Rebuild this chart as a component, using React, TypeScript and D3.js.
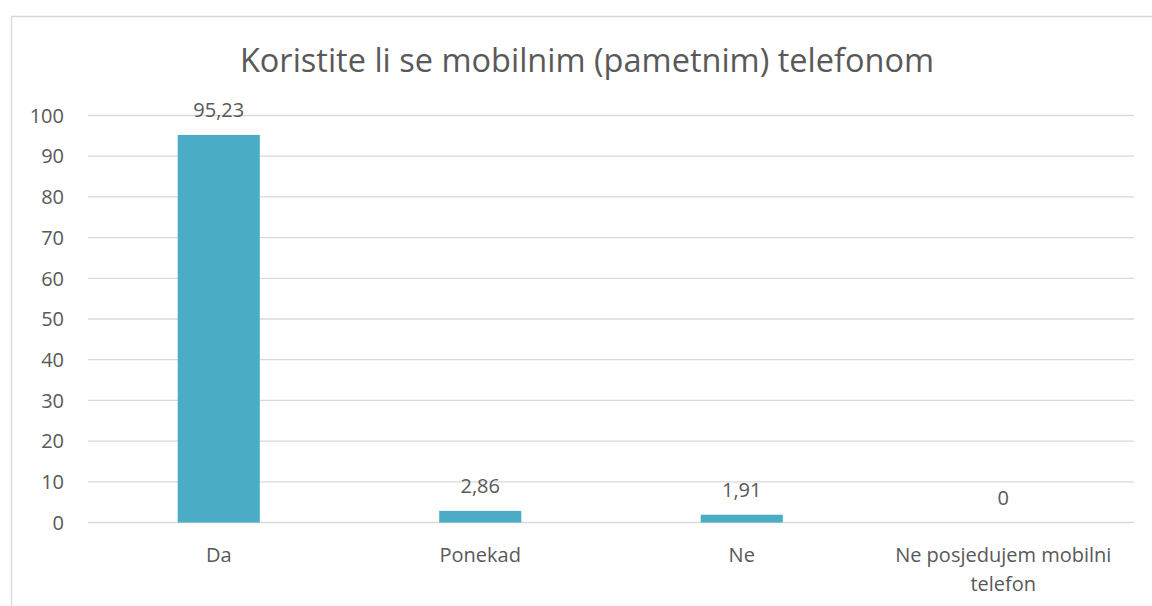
import React from "react";
import * as d3 from "d3";

const title = "Koristite li se mobilnim (pametnim) telefonom";
const categories = ["Da", "Ponekad", "Ne", "Ne posjedujem mobilni telefon"];
const categoryLines = [["Da"], ["Ponekad"], ["Ne"], ["Ne posjedujem mobilni", "telefon"]];
const values = [95.23, 2.86, 1.91, 0];
const valueLabels = ["95,23", "2,86", "1,91", "0"];
const yTicks = [0, 10, 20, 30, 40, 50, 60, 70, 80, 90, 100];

const W = 1152;
const H = 606;
const FONT = "'Open Sans', 'Noto Sans', sans-serif";
const TEXT = "#595959";
const FS = 20;

export default function App() {
  const x = d3.scaleBand<string>().domain(categories).range([88, 1134]).paddingInner(0.686).paddingOuter(0.343);
  const band = d3.scaleBand<string>().domain(categories).range([88, 1134]);
  const y = d3.scaleLinear().domain([0, 100]).range([522.5, 115.5]);

  return (
    <svg width={W} height={H} style={{ position: "absolute", left: 0, top: 0 }} fontFamily={FONT}>
      <rect x={0} y={0} width={W} height={H} fill="#fff" />
      <path d={`M11.5,${H} V16.5 H${W}`} fill="none" stroke="#d9d9d9" strokeWidth={1.3} />
      <text x={587} y={72} textAnchor="middle" fontSize={32.5} fill={TEXT}>
        {title}
      </text>
      {yTicks.map((t) => (
        <g key={t}>
          <line x1={88} x2={1134} y1={y(t)} y2={y(t)} stroke="#d9d9d9" strokeWidth={1.3} />
          <text x={64} y={y(t)} dy="0.36em" textAnchor="end" fontSize={FS} fill={TEXT}>
            {t}
          </text>
        </g>
      ))}
      {categories.map((c, i) => (
        <g key={c}>
          <rect x={x(c)} y={y(values[i])} width={x.bandwidth()} height={y(0) - y(values[i])} fill="#4bacc6" />
          <text x={(x(c) as number) + x.bandwidth() / 2} y={y(values[i]) - 18} textAnchor="middle" fontSize={FS} fill={TEXT}>
            {valueLabels[i]}
          </text>
          <text textAnchor="middle" fontSize={FS} fill={TEXT}>
            {categoryLines[i].map((line, j) => (
              <tspan key={j} x={(band(c) as number) + band.bandwidth() / 2} y={562 + j * 29}>
                {line}
              </tspan>
            ))}
          </text>
        </g>
      ))}
    </svg>
  );
}
